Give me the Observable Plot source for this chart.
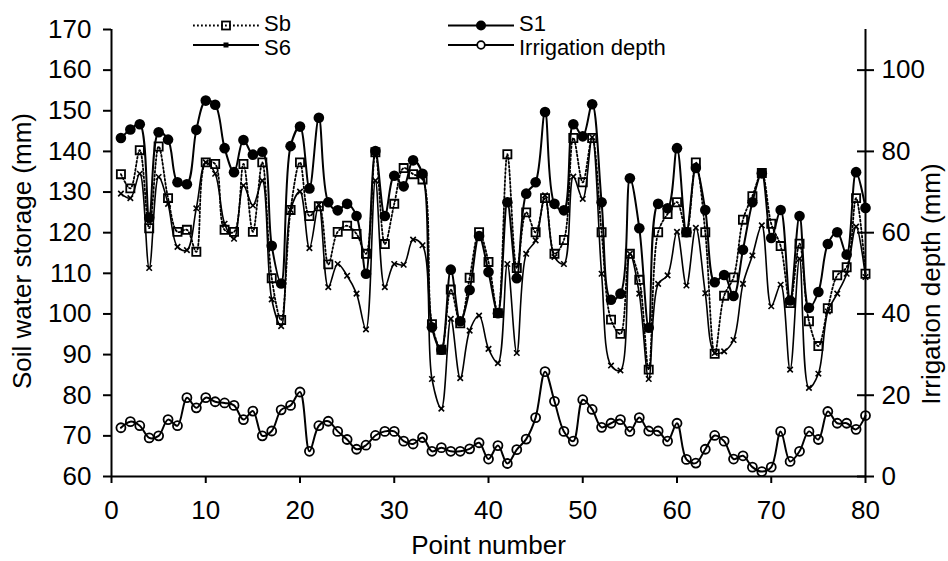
<!DOCTYPE html>
<html>
<head>
<meta charset="utf-8">
<script src="https://cdn.jsdelivr.net/npm/d3@7"></script>
<script src="https://cdn.jsdelivr.net/npm/@observablehq/plot@0.6"></script>
<style>
  html, body { margin: 0; padding: 0; background: #fff; }
  #wrap { position: relative; width: 948px; height: 561px; }
  #wrap svg.legend { position: absolute; left: 0; top: 0; pointer-events: none; }
</style>
</head>
<body>
<div id="wrap"></div>
<script>
// ---- data ----
const points = d3.range(1, 81);

const sb = [134.4,130.9,140.3,121.1,141.2,128.5,120.2,120.7,115.3,137.3,
            136.9,120.7,120.2,136.9,120.2,137.3,108.8,98.5,125.6,137.3,
            124.1,126.5,112.2,120.2,121.7,119.7,114.8,139.8,117.2,127.1,
            135.9,134.4,133.1,97.5,91.2,106.0,97.7,108.9,120.1,112.8,
            100.2,139.3,111.3,125.0,120.1,128.5,114.8,118.2,143.3,132.4,
            143.3,120.1,98.6,95.1,114.8,108.4,86.3,120.1,124.6,127.5,
            120.1,137.3,120.1,90.2,104.5,109.0,123.2,129.0,134.7,122.2,
            116.7,102.7,117.3,98.2,92.1,101.4,109.5,111.5,128.5,109.9];

const s1 = [143.3,145.4,146.7,123.7,144.7,142.9,132.4,131.9,145.3,152.5,
            151.5,140.8,134.9,142.8,139.2,139.9,116.8,107.5,141.3,146.1,
            130.9,148.3,127.5,125.5,127.1,124.1,109.9,140.1,124.1,134.0,
            131.4,137.8,134.5,96.7,91.2,110.9,98.2,105.9,119.2,110.3,
            100.2,127.5,108.8,129.6,132.4,149.7,127.1,125.5,146.7,143.7,
            151.6,127.5,103.5,105.0,133.4,121.1,96.6,127.1,126.0,140.8,
            120.1,135.9,125.6,107.8,109.6,104.4,115.8,127.5,134.6,118.7,
            125.6,103.3,124.1,101.5,105.4,117.2,120.1,114.6,134.9,126.1];

const s6 = [129.6,128.5,134.5,111.3,133.7,127.1,116.5,115.7,126.0,137.3,
            134.5,122.2,118.5,131.6,126.7,132.8,103.6,97.0,125.6,130.1,
            116.2,126.9,106.6,112.3,109.4,105.0,96.2,132.8,106.6,112.3,
            112.1,118.3,116.9,84.0,76.7,98.8,84.2,95.9,99.6,91.4,
            87.9,112.3,90.4,114.8,118.1,129.2,114.0,112.3,133.8,128.3,
            143.5,109.9,87.3,86.1,114.8,105.0,84.0,107.4,109.5,120.2,
            107.0,121.2,105.1,90.4,90.8,93.6,107.4,114.4,121.8,101.9,
            107.2,86.3,113.6,81.8,85.3,100.6,105.0,109.9,121.5,109.1];

const irrigation = [12.0,13.5,12.5,9.5,10.0,14.0,12.5,19.4,16.9,19.4,
                    18.4,18.1,17.5,14.0,16.1,10.0,11.2,16.4,17.5,20.8,
                    6.2,12.5,13.6,11.1,9.1,6.7,7.7,10.1,11.1,11.1,
                    8.7,8.0,9.6,6.2,7.1,6.2,6.2,6.8,8.3,4.3,
                    7.6,3.2,6.6,9.2,14.5,25.8,18.5,11.1,8.7,18.9,
                    16.5,12.1,13.1,14.0,11.1,14.5,11.2,11.2,8.7,13.1,
                    4.2,3.3,6.7,10.1,8.7,4.3,5.1,2.3,1.2,2.3,
                    11.1,3.7,6.2,11.1,9.1,16.0,13.1,13.1,11.6,15.0];

const xTicks = [0,10,20,30,40,50,60,70,80];
const yTicks = [60,70,80,90,100,110,120,130,140,150,160,170];
const y2Ticks = [0,20,40,60,80,100];
const y2Offset = 60; // right axis 0 aligns with left axis 60

const xLabel = "Point number";
const yLabel = "Soil water storage (mm)";
const y2Label = "Irrigation depth (mm)";
const legendNames = ["Sb", "S1", "S6", "Irrigation depth"];

// ---- tables ----
const rows = (vals) => points.map((p, i) => ({x: p, y: vals[i]}));
const sbRows = rows(sb), s1Rows = rows(s1), s6Rows = rows(s6);
const irrRows = points.map((p, i) => ({x: p, y: irrigation[i] + y2Offset}));

const FONT = "Liberation Sans, Arial, Helvetica, sans-serif";
const curve = "catmull-rom";

const chart = Plot.plot({
  width: 948,
  height: 561,
  marginLeft: 111,
  marginRight: 83,
  marginTop: 29,
  marginBottom: 85,
  style: {fontFamily: FONT, fontSize: "26px", color: "#000", background: "#fff"},
  x: {domain: [0, 80]},
  y: {domain: [60, 170]},
  marks: [
    // series
    Plot.line(sbRows, {x: "x", y: "y", curve, stroke: "#000", strokeWidth: 1.8, strokeDasharray: "1.8,2.2"}),
    Plot.dot(sbRows, {x: "x", y: "y", symbol: "square", r: 4.6, stroke: "#000", strokeWidth: 1.8, fill: "none"}),
    Plot.line(s1Rows, {x: "x", y: "y", curve, stroke: "#000", strokeWidth: 2}),
    Plot.dot(s1Rows, {x: "x", y: "y", r: 5.3, fill: "#000", stroke: "none"}),
    Plot.line(s6Rows, {x: "x", y: "y", curve, stroke: "#000", strokeWidth: 1.6}),
    Plot.dot(s6Rows, {x: "x", y: "y", symbol: "times", r: 2.6, stroke: "#000", strokeWidth: 1.6}),
    Plot.line(irrRows, {x: "x", y: "y", curve, stroke: "#000", strokeWidth: 2}),
    Plot.dot(irrRows, {x: "x", y: "y", r: 4.5, stroke: "#000", strokeWidth: 1.8, fill: "none"}),
    // axis lines
    Plot.ruleX([0, 80], {stroke: "#000", strokeWidth: 2}),
    Plot.ruleY([60], {stroke: "#000", strokeWidth: 2}),
    // axes
    Plot.axisX({ticks: xTicks, tickSize: 7, tickPadding: 17, label: null, fontSize: 26, strokeWidth: 2}),
    Plot.axisY({ticks: yTicks, anchor: "left", tickSize: 8, tickPadding: 12, label: null, fontSize: 26, strokeWidth: 2}),
    Plot.axisY({ticks: y2Ticks.map(d => d + y2Offset), anchor: "right", tickSize: 8, tickPadding: 8,
                tickFormat: d => d - y2Offset, label: null, fontSize: 26, strokeWidth: 2}),
    Plot.axisY({ticks: y2Ticks.map(d => d + y2Offset), anchor: "right", tickSize: 9, dx: -9,
                text: null, label: null, strokeWidth: 2}),
    // titles
    Plot.text([xLabel], {frameAnchor: "bottom", dy: 69, textAnchor: "middle", lineAnchor: "middle", fontSize: 26}),
    Plot.text([yLabel], {frameAnchor: "left", rotate: -90, dx: -89, dy: -2, textAnchor: "middle", lineAnchor: "middle", fontSize: 26}),
    Plot.text([y2Label], {frameAnchor: "right", rotate: -90, dx: 66, dy: 31, textAnchor: "middle", lineAnchor: "middle", fontSize: 26})
  ]
});

const wrap = document.getElementById("wrap");
wrap.appendChild(chart);

// ---- legend overlay ----
const LEG_FS = 22;
const lg = d3.select(wrap).append("svg")
  .attr("class", "legend")
  .attr("width", 948).attr("height", 70)
  .style("font-family", FONT).style("font-size", LEG_FS + "px");

const legendItems = [
  {name: legendNames[0], col: 0, row: 0, dash: "1.8,2.2", mark: "square"},
  {name: legendNames[1], col: 1, row: 0, dash: null, mark: "disc"},
  {name: legendNames[2], col: 0, row: 1, dash: null, mark: "smallsq"},
  {name: legendNames[3], col: 1, row: 1, dash: null, mark: "circle"}
];
const colX = [193, 448];
const lineLen = 66;
const rowY = [25.5, 45];
const textY = [23.5, 47.5];

legendItems.forEach(it => {
  const x0 = colX[it.col], y0 = rowY[it.row], xm = x0 + lineLen / 2;
  const g = lg.append("g");
  g.append("line").attr("x1", x0).attr("x2", x0 + lineLen).attr("y1", y0).attr("y2", y0)
    .attr("stroke", "#000").attr("stroke-width", it.dash ? 1.8 : 2)
    .attr("stroke-dasharray", it.dash);
  if (it.mark === "square") {
    g.append("rect").attr("x", xm - 4).attr("y", y0 - 4).attr("width", 8).attr("height", 8)
      .attr("fill", "none").attr("stroke", "#000").attr("stroke-width", 1.8);
  } else if (it.mark === "disc") {
    g.append("circle").attr("cx", xm).attr("cy", y0).attr("r", 5).attr("fill", "#000");
  } else if (it.mark === "smallsq") {
    g.append("rect").attr("x", xm - 2.5).attr("y", y0 - 2.5).attr("width", 5).attr("height", 5).attr("fill", "#000");
  } else {
    g.append("circle").attr("cx", xm).attr("cy", y0).attr("r", 3.8)
      .attr("fill", "#fff").attr("stroke", "#000").attr("stroke-width", 1.8);
  }
  g.append("text").attr("x", x0 + lineLen + 5).attr("y", textY[it.row])
    .attr("dy", "0.36em").attr("fill", "#000").attr("textLength", null).text(it.name);
});
</script>
</body>
</html>
